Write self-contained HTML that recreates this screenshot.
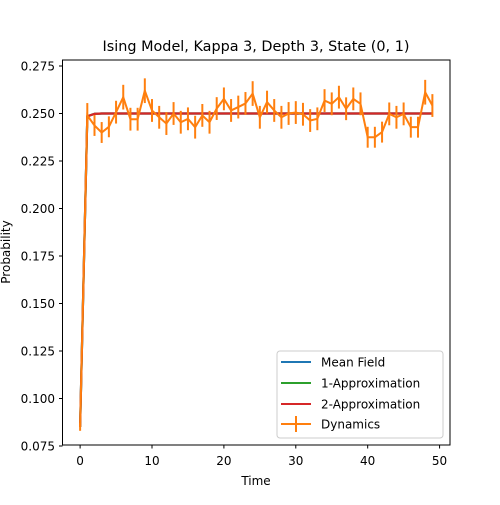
<!DOCTYPE html>
<html><head><meta charset="utf-8"><style>
body{margin:0;background:#fff}
svg text{font-family:"DejaVu Sans","Liberation Sans",sans-serif;fill:#000}
</style></head><body>
<svg id="chart" width="500" height="500" xmlns="http://www.w3.org/2000/svg">
<rect width="500" height="500" fill="#fff"/>
<text x="256" y="51" font-size="14.4" text-anchor="middle">Ising Model, Kappa 3, Depth 3, State (0, 1)</text>
<g id="marks"></g>
<rect x="62.5" y="60" width="387.5" height="385" fill="none" stroke="#000" stroke-width="1"/>
<g id="axes"></g>
<text x="256" y="485" font-size="12" text-anchor="middle">Time</text>
<text transform="translate(10,252) rotate(-90)" font-size="12" text-anchor="middle">Probability</text>
<g>
<rect x="277" y="351" width="166" height="87" rx="3" fill="#fff" fill-opacity="0.8" stroke="#ccc"/>
<line x1="281" x2="311" y1="362" y2="362" stroke="#1f77b4" stroke-width="2"/>
<text x="321" y="366.5" font-size="12">Mean Field</text>
<line x1="281" x2="311" y1="383" y2="383" stroke="#2ca02c" stroke-width="2"/>
<text x="321" y="387.5" font-size="12">1-Approximation</text>
<line x1="281" x2="311" y1="404" y2="404" stroke="#d62728" stroke-width="2"/>
<text x="321" y="408.5" font-size="12">2-Approximation</text>
<line x1="281" x2="311" y1="424" y2="424" stroke="#ff7f0e" stroke-width="2"/>
<line x1="296" x2="296" y1="416" y2="432" stroke="#ff7f0e" stroke-width="2"/>
<text x="321" y="428.5" font-size="12">Dynamics</text>
</g>
</svg>
<script>
const times=[0,1,2,3,4,5,6,7,8,9,10,11,12,13,14,15,16,17,18,19,20,21,22,23,24,25,26,27,28,29,30,31,32,33,34,35,36,37,38,39,40,41,42,43,44,45,46,47,48,49];
const dynamics=[0.085,0.249,0.2437,0.240,0.243,0.2507,0.2586,0.247,0.247,0.262,0.2516,0.248,0.2447,0.250,0.2454,0.2472,0.2428,0.249,0.2454,0.2526,0.2577,0.2516,0.2534,0.2553,0.2605,0.248,0.256,0.2516,0.248,0.250,0.2505,0.2496,0.2463,0.2472,0.2568,0.2551,0.2586,0.2525,0.2577,0.2551,0.2375,0.2375,0.2402,0.2498,0.248,0.2498,0.2428,0.2428,0.2612,0.2542];
const dynErr=[0.002,0.0065,0.0055,0.0055,0.0055,0.006,0.0065,0.006,0.006,0.0065,0.006,0.006,0.006,0.006,0.006,0.006,0.006,0.006,0.006,0.006,0.006,0.006,0.006,0.006,0.0065,0.006,0.006,0.006,0.006,0.006,0.006,0.006,0.006,0.006,0.006,0.006,0.006,0.006,0.006,0.006,0.0055,0.0055,0.0055,0.006,0.006,0.006,0.0055,0.0055,0.0065,0.006];
const meanField=[0.085,0.2485,0.2498].concat(Array(47).fill(0.25));
const approx1=[0.085,0.2485,0.2498].concat(Array(47).fill(0.25));
const approx2=[0.085,0.2485,0.2498].concat(Array(47).fill(0.25));
const xTicks=[0,10,20,30,40,50];
const yTicks=[0.075,0.100,0.125,0.150,0.175,0.200,0.225,0.250,0.275];

const NS="http://www.w3.org/2000/svg";
const X=v=>62.5+(v+2.45)/53.9*387.5;
const Y=v=>446-(v-0.075)/0.2*380;
const marks=document.getElementById('marks'), axes=document.getElementById('axes');
function mk(tag,attrs,parent){const e=document.createElementNS(NS,tag);for(const k in attrs)e.setAttribute(k,attrs[k]);parent.appendChild(e);return e;}
function series(vals,color,name,w){
  const p=mk('polyline',{points:vals.map((v,i)=>X(times[i])+','+Y(v)).join(' '),fill:'none',stroke:color,'stroke-width':w},marks);
  
  
}
series(meanField,'#1f77b4','mean-field-line',2.2);
series(approx1,'#2ca02c','1-approximation-line',2.2);
series(approx2,'#d62728','2-approximation-line',2.2);
dynamics.forEach((v,i)=>{
  const l=mk('line',{x1:X(times[i]),x2:X(times[i]),y1:Y(v-dynErr[i]),y2:Y(v+dynErr[i]),stroke:'#ff7f0e','stroke-width':2},marks);
  
  
});
series(dynamics,'#ff7f0e','dynamics-line',2);
xTicks.forEach(t=>{
  const x=X(t);
  const l=mk('line',{x1:x,x2:x,y1:445,y2:448.5,stroke:'#000'},axes);
  
  
  const tx=mk('text',{x:x,y:465,'font-size':12,'text-anchor':'middle'},axes);
  tx.textContent=t;
  
  
});
yTicks.forEach(t=>{
  const y=Y(t);
  const l=mk('line',{x1:59,x2:62.5,y1:y,y2:y,stroke:'#000'},axes);
  
  
  const tx=mk('text',{x:55,y:y+4.5,'font-size':12,'text-anchor':'end'},axes);
  tx.textContent=t.toFixed(3);
  
  
});
</script>
</body></html>
